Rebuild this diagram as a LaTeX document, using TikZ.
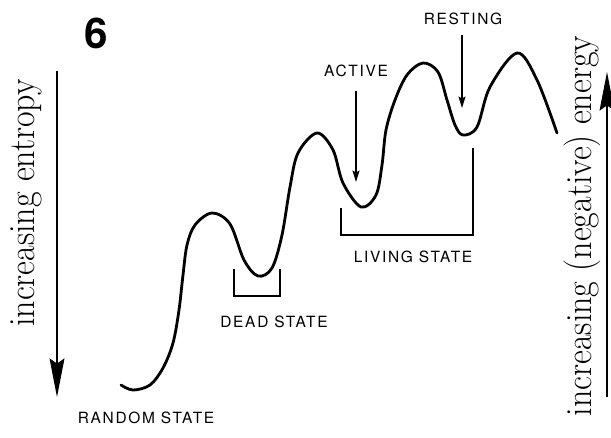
\documentclass[tikz,border=0pt]{standalone}
\usepackage{fontspec}
\usetikzlibrary{arrows.meta}
\newfontfamily\etatfont[LetterSpace=11]{TeX Gyre Heros}
\newfontfamily\numfont{TeX Gyre Heros}
\newfontfamily\axefont[FakeStretch=0.92]{Latin Modern Roman}
\tikzset{
  etat/.style={font=\etatfont\fontsize{8.8}{10}\selectfont, inner sep=0pt},
  axe/.style={font=\axefont\fontsize{21}{24}\selectfont, rotate=90, anchor=base, inner sep=0pt},
  crochet/.style={line width=0.7pt},
  fleche/.style={line width=0.7pt, -{Stealth[length=6.5pt, width=4pt, inset=1pt]}},
  grandefleche/.style={line width=0.6pt, -{Stealth[length=22pt, width=8.5pt, inset=3pt]}}
}
\begin{document}
\begin{tikzpicture}[x=0.02cm, y=-0.02cm]
                \useasboundingbox (0,0) rectangle (611,438);

                % Numéro de la figure
                \node[font=\numfont\bfseries\fontsize{24}{26}\selectfont, inner sep=0pt] (num) at (96,33) {6};

                % Axes latéraux
                \coordinate (E0) at (57,71);
                \coordinate (E1) at (57,397);
                \draw[grandefleche] (E0) -- (E1);
                \node[axe] (entropie) at (34,203) {increasing entropy};

                \coordinate (N0) at (607,397);
                \coordinate (N1) at (607,72);
                \draw[grandefleche] (N0) -- (N1);
                \node[axe] (energie) at (591,226) {increasing (negative) energy};

                % Paysage d'énergie
                \draw[line width=1.6pt, line cap=round] plot[smooth, tension=0.55] coordinates {
                    (121,385) (133,390) (150,385) (163,368) (173,343) (179,310) (183,275)
                    (187,245) (195,225) (212,213) (230,224) (244,260) (258,276) (272,268)
                    (282,235) (290,187) (298,153) (317,133) (333,150) (343,183) (361,207)
                    (376,195) (382,165) (386,130) (395,100) (407,75) (423,63) (438,72)
                    (447,100) (455,125) (463,135) (477,127) (490,87) (517,53) (537,80)
                    (557,133)};

                % Crochets des états
                \draw[crochet] (234,269) -- (234,296) -- (280,296) -- (280,269);
                \draw[crochet] (341,208) -- (341,235) -- (473,235) -- (473,148);

                % Étiquettes
                \node[etat] (aleatoire) at (146,418) {RANDOM STATE};
                \node[etat] (mort) at (274,322) {DEAD STATE};
                \node[etat] (vivant) at (413,257) {LIVING STATE};
                \node[etat] (actif) at (356,71) {ACTIVE};
                \node[etat] (repos) at (463,19) {RESTING};

                % Flèches vers les minima
                \coordinate (A0) at (356,91);
                \coordinate (A1) at (356,182);
                \coordinate (R0) at (462,35);
                \coordinate (R1) at (462,108);
                \draw[fleche] (A0) -- (A1);
                \draw[fleche] (R0) -- (R1);
            \end{tikzpicture}
\end{document}
